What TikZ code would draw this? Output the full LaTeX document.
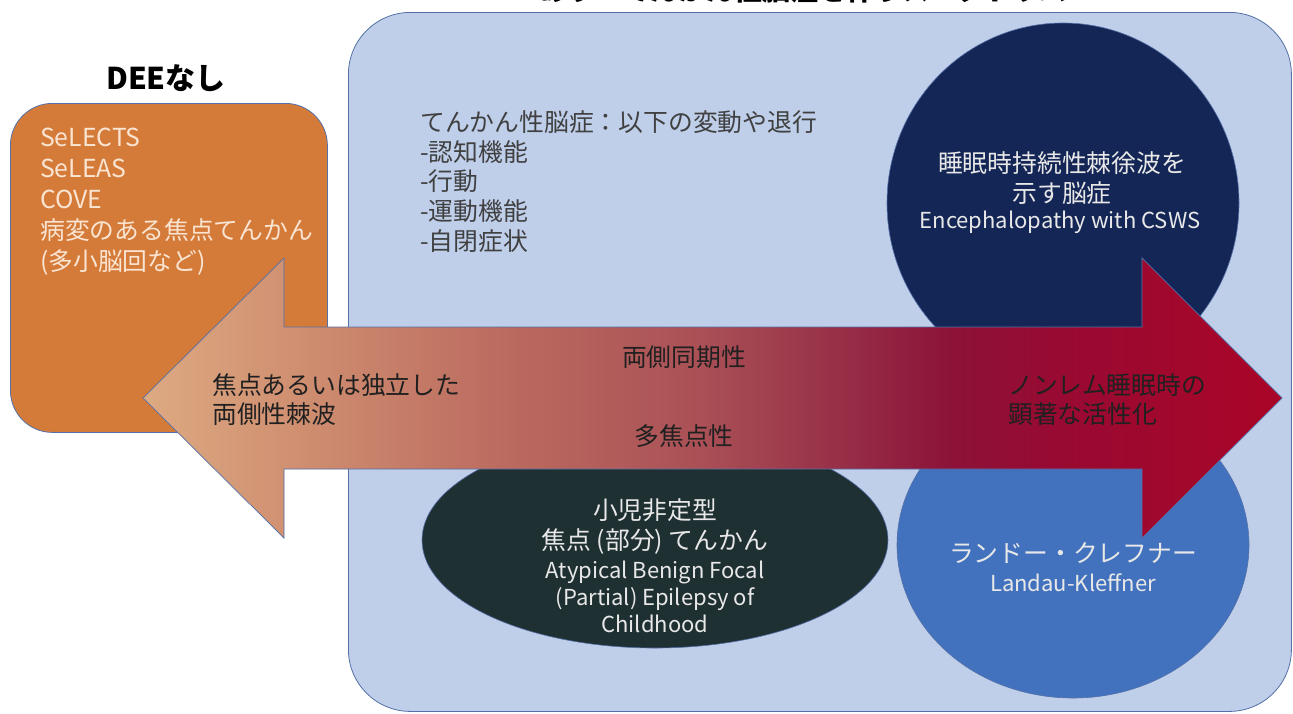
\documentclass[tikz,border=0pt]{standalone}
\usepackage{fontspec}
\setmainfont{Noto Sans CJK JP}
\usetikzlibrary{shapes.geometric}
\definecolor{bgblue}{RGB}{191,207,234}
\definecolor{edgeblue}{RGB}{84,112,168}
\definecolor{orangebox}{RGB}{213,123,57}
\definecolor{peach}{RGB}{250,228,210}
\definecolor{navy}{RGB}{20,38,85}
\definecolor{midblue}{RGB}{66,114,190}
\definecolor{darkgreen}{RGB}{31,48,51}
\definecolor{txtgrey}{RGB}{64,64,64}
\definecolor{lighttxt}{RGB}{232,232,232}
\definecolor{arrowtxt}{RGB}{32,32,32}
\definecolor{ga}{RGB}{221,170,130}
\definecolor{gb}{RGB}{207,142,112}
\definecolor{gc}{RGB}{188,108,96}
\definecolor{gd}{RGB}{170,80,86}
\definecolor{ge}{RGB}{150,45,70}
\definecolor{gf}{RGB}{140,18,56}
\definecolor{gg}{RGB}{152,10,50}
\definecolor{gh}{RGB}{170,5,40}
\pgfdeclarehorizontalshading{arrowgrad}{100bp}{color(0bp)=(ga); color(25bp)=(ga); color(32bp)=(gb); color(40.5bp)=(gc); color(49.5bp)=(gd); color(56bp)=(ge); color(60.5bp)=(gf); color(65bp)=(gg); color(75bp)=(gh); color(100bp)=(gh)}
\newcommand\myfs[2]{\fontsize{#1}{#2}\selectfont}
\tikzset{
  panel/.style={draw=edgeblue, line width=0.8pt, inner sep=0pt, anchor=north west},
  blob/.style={ellipse, draw=edgeblue, line width=0.6pt, inner sep=0pt},
  jtext/.style={inner sep=0pt, font=\myfs{24.8}{30}},
  etext/.style={inner sep=0pt, font=\myfs{22}{27}},
  headtext/.style={inner sep=0pt, font=\myfs{30}{34}\bfseries, text=black},
}
\begin{document}
\begin{tikzpicture}[x=1pt,y=-1pt]
\useasboundingbox (0,0) rectangle (1293,713);
\fill[white] (0,0) rectangle (1293,713);
% panels
\node (bluebox) [panel, fill=bgblue, rounded corners=62pt, minimum width=943pt, minimum height=699pt] at (348,12) {};
\node (orangebox) [panel, fill=orangebox, rounded corners=42pt, minimum width=317pt, minimum height=329pt] at (10,103) {};
% headings
\node (title) [headtext, font=\myfs{28}{34}\bfseries, anchor=base] at (775,0) {DEEあり：てんかん性脳症を伴うスペクトラム};
\node (nodee) [headtext] at (166,78) {DEEなし};
% orange text
\node (orangetxt) [jtext, text=peach, align=left, anchor=west, font=\myfs{24.8}{31}] at (40,202)
  {SeLECTS\\SeLEAS\\COVE\\病変のある焦点てんかん\\(多小脳回など)};
% blue panel text
\node (eetxt) [jtext, text=txtgrey, align=left, anchor=west, font=\myfs{24.8}{29.75}] at (420,181.5)
  {てんかん性脳症：以下の変動や退行\\-認知機能\\-行動\\-運動機能\\-自閉症状};
% shapes
\node (cswsshape) [blob, fill=navy, minimum width=352pt, minimum height=360pt] at (1063,203) {};
\node (lksshape) [blob, fill=midblue, minimum width=352pt, minimum height=306pt] at (1073,545) {};
\node (abpeshape) [blob, fill=darkgreen, minimum width=466pt, minimum height=216pt] at (655,540) {};
% shape texts
\node (cswsjp) [jtext, text=lighttxt, align=center] at (1062,178) {睡眠時持続性棘徐波を\\示す脳症};
\node (cswsen) [etext, text=lighttxt] at (1060,222) {Encephalopathy with CSWS};
\node (abpejp) [jtext, text=lighttxt, align=center] at (655,527) {小児非定型\\焦点 (部分) てんかん};
\node (abpeen) [etext, text=lighttxt, align=center] at (655,597) {Atypical Benign Focal\\(Partial) Epilepsy of\\Childhood};
\node (lksjp) [jtext, text=lighttxt] at (1073,553) {ランドー・クレフナー};
\node (lksen) [etext, text=lighttxt] at (1073,583) {Landau-Kleffner};
% double arrow
\path[shading=arrowgrad, draw=edgeblue, line width=0.7pt]
  (143,398) -- (284,258) -- (284,327) -- (1142,327) -- (1142,258) -- (1282,398)
  -- (1142,538) -- (1142,469) -- (284,469) -- (284,538) -- cycle;
% arrow texts
\node (focaltxt) [jtext, text=arrowtxt, align=left, anchor=west, font=\myfs{24.8}{29}] at (212,399.5) {焦点あるいは独立した\\両側性棘波};
\node (bisync) [jtext, text=arrowtxt] at (684,357) {両側同期性};
\node (multifocal) [jtext, text=arrowtxt] at (684,436) {多焦点性};
\node (nremtxt) [jtext, text=arrowtxt, align=left, anchor=west, font=\myfs{24.8}{29}] at (1008,399.5) {ノンレム睡眠時の\\顕著な活性化};
\end{tikzpicture}
\end{document}
